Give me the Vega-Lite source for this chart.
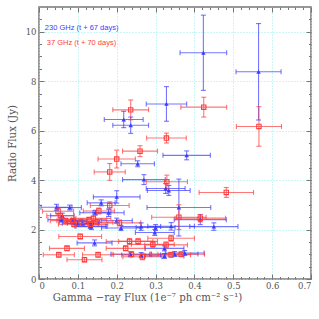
{
"$schema": "https://vega.github.io/schema/vega-lite/v6.json",
"width": 272, "height": 272,
"autosize": "none",
"padding": {"left": 39, "top": 7, "right": 8, "bottom": 40},
"config": {"view": {"stroke": "#777", "strokeWidth": 1.5}, "axis": {"domain": false, "tickColor": "#777", "tickWidth": 1, "grid": false, "labels": false, "title": null}},
"data": {"values": [
{"b":"230 GHz","x":0.423,"y":9.15,"xlo":0.363,"xhi":0.483,"ylo":7.63,"yhi":10.67},
{"b":"230 GHz","x":0.565,"y":8.38,"xlo":0.507,"xhi":0.623,"ylo":6.43,"yhi":10.33},
{"b":"230 GHz","x":0.328,"y":7.08,"xlo":0.276,"xhi":0.38,"ylo":6.38,"yhi":7.78},
{"b":"230 GHz","x":0.218,"y":6.45,"xlo":0.168,"xhi":0.268,"ylo":6.12,"yhi":6.78},
{"b":"230 GHz","x":0.236,"y":6.22,"xlo":0.19,"xhi":0.282,"ylo":5.89,"yhi":6.55},
{"b":"230 GHz","x":0.38,"y":5.0,"xlo":0.319,"xhi":0.441,"ylo":4.82,"yhi":5.18},
{"b":"230 GHz","x":0.254,"y":4.66,"xlo":0.211,"xhi":0.297,"ylo":4.54,"yhi":4.78},
{"b":"230 GHz","x":0.27,"y":4.02,"xlo":0.215,"xhi":0.325,"ylo":3.82,"yhi":4.22},
{"b":"230 GHz","x":0.2,"y":3.32,"xlo":0.14,"xhi":0.26,"ylo":3.07,"yhi":3.57},
{"b":"230 GHz","x":0.16,"y":3.08,"xlo":0.124,"xhi":0.196,"ylo":2.96,"yhi":3.2},
{"b":"230 GHz","x":0.179,"y":2.68,"xlo":0.139,"xhi":0.219,"ylo":2.53,"yhi":2.83},
{"b":"230 GHz","x":0.045,"y":2.9,"xlo":0.005,"xhi":0.085,"ylo":2.78,"yhi":3.02},
{"b":"230 GHz","x":0.079,"y":2.89,"xlo":0.049,"xhi":0.109,"ylo":2.79,"yhi":2.99},
{"b":"230 GHz","x":0.145,"y":2.68,"xlo":0.105,"xhi":0.185,"ylo":2.58,"yhi":2.78},
{"b":"230 GHz","x":0.087,"y":2.33,"xlo":0.052,"xhi":0.122,"ylo":2.23,"yhi":2.43},
{"b":"230 GHz","x":0.135,"y":2.12,"xlo":0.095,"xhi":0.175,"ylo":2.0,"yhi":2.24},
{"b":"230 GHz","x":0.058,"y":2.4,"xlo":0.023,"xhi":0.093,"ylo":2.3,"yhi":2.5},
{"b":"230 GHz","x":0.211,"y":2.06,"xlo":0.161,"xhi":0.261,"ylo":1.96,"yhi":2.16},
{"b":"230 GHz","x":0.263,"y":2.12,"xlo":0.213,"xhi":0.313,"ylo":1.97,"yhi":2.27},
{"b":"230 GHz","x":0.298,"y":1.88,"xlo":0.248,"xhi":0.348,"ylo":1.76,"yhi":2.0},
{"b":"230 GHz","x":0.143,"y":1.46,"xlo":0.098,"xhi":0.188,"ylo":1.34,"yhi":1.58},
{"b":"230 GHz","x":0.235,"y":1.0,"xlo":0.185,"xhi":0.285,"ylo":0.9,"yhi":1.1},
{"b":"230 GHz","x":0.263,"y":0.97,"xlo":0.213,"xhi":0.313,"ylo":0.87,"yhi":1.07},
{"b":"230 GHz","x":0.326,"y":3.66,"xlo":0.276,"xhi":0.376,"ylo":3.46,"yhi":3.86},
{"b":"230 GHz","x":0.334,"y":3.58,"xlo":0.279,"xhi":0.389,"ylo":3.38,"yhi":3.78},
{"b":"230 GHz","x":0.36,"y":2.89,"xlo":0.278,"xhi":0.442,"ylo":1.74,"yhi":4.04},
{"b":"230 GHz","x":0.415,"y":2.4,"xlo":0.348,"xhi":0.482,"ylo":2.2,"yhi":2.6},
{"b":"230 GHz","x":0.45,"y":2.12,"xlo":0.388,"xhi":0.512,"ylo":1.97,"yhi":2.27},
{"b":"230 GHz","x":0.34,"y":2.13,"xlo":0.28,"xhi":0.4,"ylo":1.98,"yhi":2.28},
{"b":"230 GHz","x":0.323,"y":1.24,"xlo":0.273,"xhi":0.373,"ylo":1.14,"yhi":1.34},
{"b":"230 GHz","x":0.375,"y":1.05,"xlo":0.325,"xhi":0.425,"ylo":0.95,"yhi":1.15},
{"b":"230 GHz","x":0.349,"y":1.01,"xlo":0.289,"xhi":0.409,"ylo":0.91,"yhi":1.11},
{"b":"230 GHz","x":0.323,"y":0.93,"xlo":0.273,"xhi":0.373,"ylo":0.83,"yhi":1.03},
{"b":"230 GHz","x":0.113,"y":2.25,"xlo":0.073,"xhi":0.153,"ylo":2.15,"yhi":2.35},
{"b":"230 GHz","x":0.132,"y":2.14,"xlo":0.092,"xhi":0.172,"ylo":2.04,"yhi":2.24},
{"b":"230 GHz","x":0.06,"y":2.56,"xlo":0.03,"xhi":0.09,"ylo":2.46,"yhi":2.66},
{"b":"230 GHz","x":0.3,"y":2.08,"xlo":0.25,"xhi":0.35,"ylo":1.96,"yhi":2.2},
{"b":"230 GHz","x":0.2,"y":2.36,"xlo":0.16,"xhi":0.24,"ylo":2.26,"yhi":2.46},
{"b":"230 GHz","x":0.1,"y":2.25,"xlo":0.06,"xhi":0.14,"ylo":2.15,"yhi":2.35},
{"b":"37 GHz","x":0.236,"y":6.84,"xlo":0.19,"xhi":0.282,"ylo":6.44,"yhi":7.24},
{"b":"37 GHz","x":0.424,"y":6.95,"xlo":0.365,"xhi":0.483,"ylo":6.55,"yhi":7.35},
{"b":"37 GHz","x":0.566,"y":6.17,"xlo":0.508,"xhi":0.624,"ylo":5.37,"yhi":6.97},
{"b":"37 GHz","x":0.328,"y":5.7,"xlo":0.277,"xhi":0.379,"ylo":5.5,"yhi":5.9},
{"b":"37 GHz","x":0.26,"y":5.17,"xlo":0.215,"xhi":0.305,"ylo":4.95,"yhi":5.39},
{"b":"37 GHz","x":0.2,"y":4.85,"xlo":0.152,"xhi":0.248,"ylo":4.49,"yhi":5.21},
{"b":"37 GHz","x":0.182,"y":4.33,"xlo":0.142,"xhi":0.222,"ylo":3.99,"yhi":4.67},
{"b":"37 GHz","x":0.329,"y":3.93,"xlo":0.276,"xhi":0.382,"ylo":3.66,"yhi":4.2},
{"b":"37 GHz","x":0.482,"y":3.5,"xlo":0.412,"xhi":0.552,"ylo":3.3,"yhi":3.7},
{"b":"37 GHz","x":0.36,"y":2.5,"xlo":0.29,"xhi":0.43,"ylo":2.0,"yhi":3.0},
{"b":"37 GHz","x":0.415,"y":2.46,"xlo":0.35,"xhi":0.48,"ylo":2.31,"yhi":2.61},
{"b":"37 GHz","x":0.049,"y":2.74,"xlo":0.009,"xhi":0.089,"ylo":2.62,"yhi":2.86},
{"b":"37 GHz","x":0.055,"y":2.56,"xlo":0.02,"xhi":0.09,"ylo":2.46,"yhi":2.66},
{"b":"37 GHz","x":0.069,"y":2.36,"xlo":0.029,"xhi":0.109,"ylo":2.26,"yhi":2.46},
{"b":"37 GHz","x":0.086,"y":2.36,"xlo":0.046,"xhi":0.126,"ylo":2.26,"yhi":2.46},
{"b":"37 GHz","x":0.09,"y":2.21,"xlo":0.05,"xhi":0.13,"ylo":2.11,"yhi":2.31},
{"b":"37 GHz","x":0.109,"y":2.32,"xlo":0.069,"xhi":0.149,"ylo":2.22,"yhi":2.42},
{"b":"37 GHz","x":0.129,"y":2.4,"xlo":0.084,"xhi":0.174,"ylo":2.3,"yhi":2.5},
{"b":"37 GHz","x":0.132,"y":2.21,"xlo":0.087,"xhi":0.177,"ylo":2.11,"yhi":2.31},
{"b":"37 GHz","x":0.154,"y":2.75,"xlo":0.114,"xhi":0.194,"ylo":2.63,"yhi":2.87},
{"b":"37 GHz","x":0.182,"y":2.97,"xlo":0.132,"xhi":0.232,"ylo":2.82,"yhi":3.12},
{"b":"37 GHz","x":0.207,"y":2.27,"xlo":0.152,"xhi":0.262,"ylo":2.15,"yhi":2.39},
{"b":"37 GHz","x":0.106,"y":1.72,"xlo":0.051,"xhi":0.161,"ylo":1.62,"yhi":1.82},
{"b":"37 GHz","x":0.072,"y":1.24,"xlo":0.027,"xhi":0.117,"ylo":1.14,"yhi":1.34},
{"b":"37 GHz","x":0.051,"y":0.98,"xlo":0.011,"xhi":0.091,"ylo":0.88,"yhi":1.08},
{"b":"37 GHz","x":0.117,"y":0.78,"xlo":0.072,"xhi":0.162,"ylo":0.7,"yhi":0.86},
{"b":"37 GHz","x":0.152,"y":0.98,"xlo":0.112,"xhi":0.192,"ylo":0.88,"yhi":1.08},
{"b":"37 GHz","x":0.223,"y":1.24,"xlo":0.173,"xhi":0.273,"ylo":1.14,"yhi":1.34},
{"b":"37 GHz","x":0.233,"y":1.52,"xlo":0.173,"xhi":0.293,"ylo":1.4,"yhi":1.64},
{"b":"37 GHz","x":0.255,"y":1.52,"xlo":0.205,"xhi":0.305,"ylo":1.4,"yhi":1.64},
{"b":"37 GHz","x":0.293,"y":1.4,"xlo":0.238,"xhi":0.348,"ylo":1.28,"yhi":1.52},
{"b":"37 GHz","x":0.327,"y":1.38,"xlo":0.272,"xhi":0.382,"ylo":1.26,"yhi":1.5},
{"b":"37 GHz","x":0.34,"y":1.65,"xlo":0.28,"xhi":0.4,"ylo":1.53,"yhi":1.77},
{"b":"37 GHz","x":0.266,"y":0.9,"xlo":0.216,"xhi":0.316,"ylo":0.78,"yhi":1.02},
{"b":"37 GHz","x":0.366,"y":1.0,"xlo":0.306,"xhi":0.426,"ylo":0.9,"yhi":1.1},
{"b":"37 GHz","x":0.238,"y":1.0,"xlo":0.188,"xhi":0.288,"ylo":0.9,"yhi":1.1},
{"b":"37 GHz","x":0.34,"y":0.98,"xlo":0.29,"xhi":0.39,"ylo":0.88,"yhi":1.08},
{"b":"37 GHz","x":0.14,"y":2.45,"xlo":0.095,"xhi":0.185,"ylo":2.35,"yhi":2.55},
{"b":"37 GHz","x":0.15,"y":2.3,"xlo":0.11,"xhi":0.19,"ylo":2.2,"yhi":2.4}
]},
"layer": [
{"mark": {"type": "point", "opacity": 0},
 "encoding": {
  "x": {"field": "x", "type": "quantitative", "scale": {"domain": [0, 0.7], "nice": false, "zero": false},
        "axis": {"orient": "bottom", "values": [0,0.1,0.2,0.3,0.4,0.5,0.6,0.7], "format": "~g", "labels": true, "tickSize": -5, "labelPadding": 7,
                 "labelFont": "DejaVu Serif", "labelFontSize": 8.5, "labelColor": "#555",
                 "grid": true, "gridColor": "#99eeee", "gridDash": [1, 2], "gridWidth": 1,
                 "title": "Gamma −ray Flux (1e⁻⁷ ph cm⁻² s⁻¹)", "titleFont": "DejaVu Serif", "titleFontSize": 10.2, "titleFontWeight": "normal", "titleColor": "#555",
                 "titleX": 108, "titleY": 21, "titleAlign": "center", "titleBaseline": "alphabetic"}},
  "y": {"field": "y", "type": "quantitative", "scale": {"domain": [0, 11], "nice": false, "zero": false},
        "axis": {"orient": "left", "values": [0,2,4,6,8,10], "format": "d", "labels": true, "tickSize": -5, "labelPadding": 8,
                 "labelFont": "DejaVu Serif", "labelFontSize": 8.5, "labelColor": "#555",
                 "grid": true, "gridColor": "#99eeee", "gridDash": [1, 2], "gridWidth": 1,
                 "title": "Radio Flux (Jy)", "titleFont": "DejaVu Serif", "titleFontSize": 10.2, "titleFontWeight": "normal", "titleColor": "#555",
                 "titleX": -24, "titleY": 136, "titleAngle": -90, "titleAlign": "center", "titleBaseline": "alphabetic"}}
 }},
{"mark": {"type": "point", "opacity": 0},
 "encoding": {
  "x": {"field": "x", "type": "quantitative", "axis": {"orient": "top", "values": [0,0.1,0.2,0.3,0.4,0.5,0.6,0.7], "tickSize": -5}},
  "y": {"field": "y", "type": "quantitative", "axis": {"orient": "right", "values": [0,2,4,6,8,10], "tickSize": -5}}
 }},
{"mark": {"type": "point", "opacity": 0},
 "encoding": {
  "x": {"field": "x", "type": "quantitative", "axis": {"orient": "bottom", "values": [0.02,0.04,0.06,0.08,0.12,0.14,0.16,0.18,0.22,0.24,0.26,0.28,0.32,0.34,0.36,0.38,0.42,0.44,0.46,0.48,0.52,0.54,0.56,0.58,0.62,0.64,0.66,0.68], "tickSize": -2.5}},
  "y": {"field": "y", "type": "quantitative", "axis": {"orient": "left", "values": [0.5,1,1.5,2.5,3,3.5,4.5,5,5.5,6.5,7,7.5,8.5,9,9.5,10.5], "tickSize": -2.5}}
 }},
{"mark": {"type": "point", "opacity": 0},
 "encoding": {
  "x": {"field": "x", "type": "quantitative", "axis": {"orient": "top", "values": [0.02,0.04,0.06,0.08,0.12,0.14,0.16,0.18,0.22,0.24,0.26,0.28,0.32,0.34,0.36,0.38,0.42,0.44,0.46,0.48,0.52,0.54,0.56,0.58,0.62,0.64,0.66,0.68], "tickSize": -2.5}},
  "y": {"field": "y", "type": "quantitative", "axis": {"orient": "right", "values": [0.5,1,1.5,2.5,3,3.5,4.5,5,5.5,6.5,7,7.5,8.5,9,9.5,10.5], "tickSize": -2.5}}
 }},
{"mark": {"type": "rule", "opacity": 0.7, "strokeWidth": 1.1},
 "encoding": {
  "x": {"field": "xlo", "type": "quantitative", "axis": null}, "x2": {"field": "xhi"},
  "y": {"field": "y", "type": "quantitative", "axis": null},
  "color": {"field": "b", "type": "nominal", "scale": {"domain": ["230 GHz", "37 GHz"], "range": ["#3c3cff", "#ff3c3c"]}, "legend": null}
 }},
{"mark": {"type": "rule", "opacity": 0.7, "strokeWidth": 1.1},
 "encoding": {
  "x": {"field": "x", "type": "quantitative", "axis": null},
  "y": {"field": "ylo", "type": "quantitative", "axis": null}, "y2": {"field": "yhi"},
  "color": {"field": "b", "type": "nominal", "legend": null}
 }},
{"mark": {"type": "tick", "orient": "vertical", "size": 5, "thickness": 1.1, "opacity": 0.7},
 "encoding": {
  "x": {"field": "xlo", "type": "quantitative", "axis": null},
  "y": {"field": "y", "type": "quantitative", "axis": null},
  "color": {"field": "b", "type": "nominal", "legend": null}
 }},
{"mark": {"type": "tick", "orient": "vertical", "size": 5, "thickness": 1.1, "opacity": 0.7},
 "encoding": {
  "x": {"field": "xhi", "type": "quantitative", "axis": null},
  "y": {"field": "y", "type": "quantitative", "axis": null},
  "color": {"field": "b", "type": "nominal", "legend": null}
 }},
{"mark": {"type": "tick", "orient": "horizontal", "size": 5, "thickness": 1.1, "opacity": 0.7},
 "encoding": {
  "x": {"field": "x", "type": "quantitative", "axis": null},
  "y": {"field": "ylo", "type": "quantitative", "axis": null},
  "color": {"field": "b", "type": "nominal", "legend": null}
 }},
{"mark": {"type": "tick", "orient": "horizontal", "size": 5, "thickness": 1.1, "opacity": 0.7},
 "encoding": {
  "x": {"field": "x", "type": "quantitative", "axis": null},
  "y": {"field": "yhi", "type": "quantitative", "axis": null},
  "color": {"field": "b", "type": "nominal", "legend": null}
 }},
{"transform": [{"filter": "datum.b === '230 GHz'"}],
 "mark": {"type": "point", "shape": "triangle-up", "filled": true, "size": 20, "opacity": 1},
 "encoding": {
  "x": {"field": "x", "type": "quantitative", "axis": null},
  "y": {"field": "y", "type": "quantitative", "axis": null},
  "color": {"field": "b", "type": "nominal", "legend": null}
 }},
{"transform": [{"filter": "datum.b === '37 GHz'"}],
 "mark": {"type": "point", "shape": "square", "filled": false, "size": 19, "strokeWidth": 1.1, "opacity": 1},
 "encoding": {
  "x": {"field": "x", "type": "quantitative", "axis": null},
  "y": {"field": "y", "type": "quantitative", "axis": null},
  "color": {"field": "b", "type": "nominal", "legend": null}
 }},
{"data": {"values": [{"t": "230 GHz (t + 67 days)", "lx": 0.015, "ly": 10.16, "b": "230 GHz"}, {"t": "37 GHz (t + 70 days)", "lx": 0.02, "ly": 9.55, "b": "37 GHz"}]},
 "mark": {"type": "text", "align": "left", "baseline": "middle", "font": "Liberation Sans", "fontSize": 7.5},
 "encoding": {
  "x": {"field": "lx", "type": "quantitative", "axis": null},
  "y": {"field": "ly", "type": "quantitative", "axis": null},
  "text": {"field": "t"},
  "color": {"field": "b", "type": "nominal", "legend": null}
 }}
],
"resolve": {"axis": {"x": "independent", "y": "independent"}}
}
